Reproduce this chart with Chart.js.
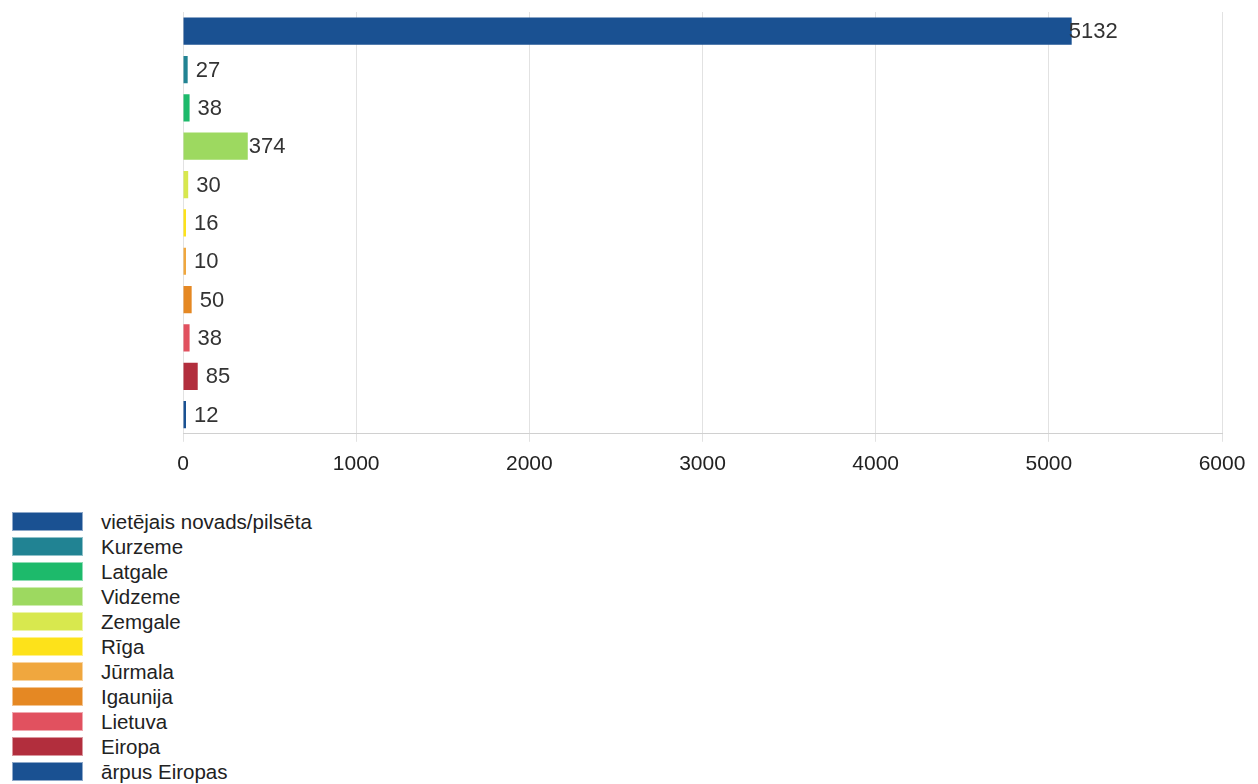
<!DOCTYPE html>
<html>
<head>
<meta charset="utf-8">
<script src="https://cdn.jsdelivr.net/npm/chart.js@4"></script>
<style>
  html, body { margin: 0; padding: 0; background: #fff; }
  body { width: 1258px; height: 784px; position: relative; overflow: hidden; font-family: Arial, "Liberation Sans", sans-serif; }
  #wrap { position: absolute; left: 0; top: 0; width: 1258px; height: 490px; }
  #legend { position: absolute; left: 12px; top: 509px; }
  .row { height: 25px; display: flex; align-items: center; }
  .box { width: 71px; height: 19px; box-sizing: border-box; border: 1px solid rgba(255,255,255,0.5); margin-right: 18px; }
  .lbl { font-size: 20.5px; color: #222; line-height: 25px; }
</style>
</head>
<body>
<div id="wrap"><canvas id="c"></canvas></div>
<div id="legend"></div>
<script>
// kategorijas un vērtības
const categories = [
  "vietējais novads/pilsēta", "Kurzeme", "Latgale", "Vidzeme", "Zemgale",
  "Rīga", "Jūrmala", "Igaunija", "Lietuva", "Eiropa", "ārpus Eiropas"
];
const values = [5132, 27, 38, 374, 30, 16, 10, 50, 38, 85, 12];
const colors = [
  "#1a5192", "#218393", "#1dba6b", "#9dd960", "#d8e84e",
  "#fde21a", "#f0a73e", "#e58823", "#e1515f", "#b22e3d", "#1a5192"
];
const xTicks = [0, 1000, 2000, 3000, 4000, 5000, 6000];

const FONT = "Arial, 'Liberation Sans', sans-serif";

// vērtību uzraksti pie stabiņiem
const valueLabels = {
  id: "valueLabels",
  afterDatasetsDraw(chart) {
    const ctx = chart.ctx;
    const meta = chart.getDatasetMeta(0);
    ctx.save();
    ctx.font = "22px " + FONT;
    ctx.fillStyle = "#333";
    ctx.textBaseline = "middle";
    ctx.textAlign = "left";
    meta.data.forEach((bar, i) => {
      const v = values[i];
      const off = v > 1000 ? -3 : (v > 200 ? 1 : 8);
      ctx.fillText(String(v), bar.x + off, bar.y + 1);
    });
    ctx.restore();
  }
};

new Chart(document.getElementById("c"), {
  type: "bar",
  data: {
    labels: categories,
    datasets: [{
      data: values,
      backgroundColor: colors,
      borderWidth: 0,
      categoryPercentage: 1,
      barPercentage: 0.71,
      minBarLength: 3
    }]
  },
  options: {
    indexAxis: "y",
    responsive: true,
    maintainAspectRatio: false,
    animation: false,
    layout: { padding: { left: 183, right: 36, top: 12, bottom: 3 } },
    plugins: { legend: { display: false }, tooltip: { enabled: false } },
    scales: {
      x: {
        min: 0,
        max: 6000,
        afterBuildTicks: (s) => { s.ticks = xTicks.map(v => ({ value: v })); },
        grid: { color: "#e2e2e2", tickLength: 8, drawTicks: true },
        border: { color: "#d0d0d0" },
        ticks: {
          color: "#222",
          padding: 10,
          callback: (v) => String(v),
          font: { family: FONT, size: 21 }
        }
      },
      y: {
        display: false
      }
    }
  },
  plugins: [valueLabels]
});

// leģenda
const lg = document.getElementById("legend");
categories.forEach((name, i) => {
  const row = document.createElement("div");
  row.className = "row";
  const b = document.createElement("div");
  b.className = "box";
  b.style.background = colors[i];
  const t = document.createElement("span");
  t.className = "lbl";
  t.textContent = name;
  row.appendChild(b);
  row.appendChild(t);
  lg.appendChild(row);
});
</script>
</body>
</html>
